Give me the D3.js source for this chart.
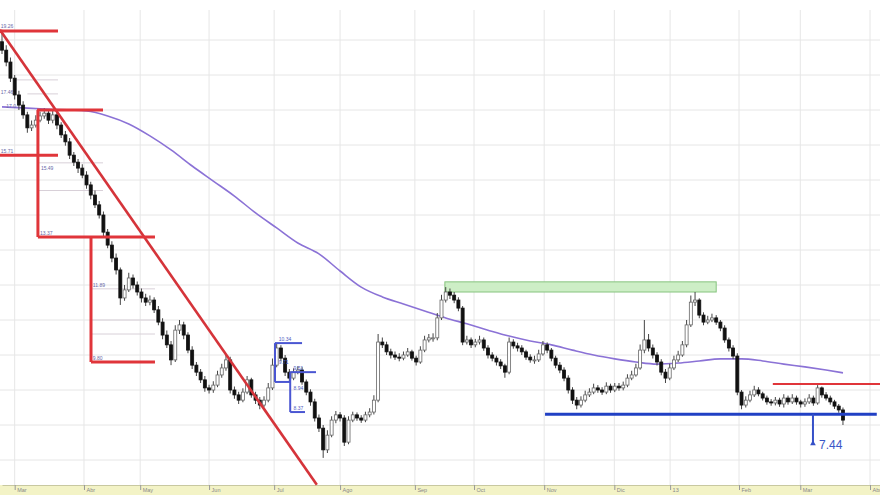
<!DOCTYPE html>
<html>
<head>
<meta charset="utf-8">
<script src="https://cdn.jsdelivr.net/npm/d3@7"></script>
<style>
  html, body { margin: 0; padding: 0; background: #fff; }
  svg { display: block; font-family: "Liberation Sans", Arial, sans-serif; }
</style>
</head>
<body>
<div id="chart-container"></div>
<script>
// daily candles, Mar 2012 -> Mar 2013 (open = previous close)
const firstOpen = 18.95
const closes = [
    18.71, 18.37, 17.91, 17.43, 17.14, 16.86, 16.49, 16.57, 16.71, 16.83,
    16.91, 16.71, 16.86, 16.57, 16.29, 16.09, 15.71, 15.51, 15.34, 15.14,
    14.86, 14.57, 14.29, 14.0, 13.51, 13.14, 12.77, 12.43, 11.63, 11.86,
    12.2, 12.0, 11.8, 11.63, 11.51, 11.57, 11.29, 10.94, 10.57, 10.29,
    9.86, 10.71, 10.86, 10.57, 10.14, 9.71, 9.51, 9.29, 9.06, 9.0,
    9.14, 9.43, 9.63, 9.86, 9.0, 8.86, 8.71, 8.94, 9.29, 8.86,
    8.71, 8.57, 8.71, 9.06, 9.71, 10.2, 9.91, 9.51, 9.34, 9.51,
    9.57, 9.23, 8.94, 8.66, 8.2, 7.91, 7.29, 7.71, 8.14, 8.29,
    8.2, 7.51, 8.14, 8.29, 8.2, 8.14, 8.29, 8.37, 8.71, 10.37,
    10.29, 10.09, 10.0, 9.94, 9.91, 10.0, 10.09, 9.91, 9.8, 10.14,
    10.43, 10.49, 10.49, 11.06, 11.57, 11.8, 11.71, 11.57, 11.34, 10.37,
    10.43, 10.29, 10.37, 10.43, 10.2, 10.0, 9.91, 9.8, 9.69, 9.51,
    10.37, 10.26, 10.2, 10.09, 9.94, 9.86, 9.86, 10.03, 10.29, 10.14,
    9.91, 9.71, 9.57, 9.34, 9.0, 8.71, 8.57, 8.71, 8.86, 8.94,
    9.06, 9.0, 8.94, 9.11, 9.0, 9.11, 9.06, 9.14, 9.34, 9.43,
    9.63, 10.14, 10.43, 10.2, 10.0, 9.8, 9.51, 9.34, 9.63, 9.86,
    10.0, 10.29, 10.86, 11.51, 11.57, 11.14, 10.94, 11.0, 11.06, 10.94,
    10.77, 10.43, 10.2, 9.97, 8.94, 8.57, 8.71, 8.86, 9.0, 8.89,
    8.77, 8.66, 8.63, 8.71, 8.6, 8.77, 8.66, 8.77, 8.66, 8.6,
    8.66, 8.77, 8.63, 9.06, 8.86, 8.77, 8.66, 8.54, 8.43, 8.14
]
const highs = [
    19.29, 18.85, 18.5, 18.0, 17.55, 17.25, 16.95, 16.7, 16.85, 16.95,
    17.05, 17.0, 16.97, 16.95, 16.65, 16.4, 16.2, 15.8, 15.6, 15.45,
    15.25, 14.95, 14.7, 14.4, 14.1, 13.6, 13.25, 12.9, 12.5, 12.0,
    12.35, 12.3, 12.1, 11.9, 11.75, 11.7, 11.65, 11.4, 11.05, 10.7,
    10.4, 10.85, 11.0, 10.95, 10.65, 10.25, 9.8, 9.6, 9.4, 9.15,
    9.25, 9.55, 9.75, 10.0, 9.95, 9.1, 8.95, 9.05, 9.4, 9.35,
    8.95, 8.8, 8.82, 9.2, 9.9, 10.34, 10.28, 10.0, 9.6, 9.62,
    9.68, 9.65, 9.3, 9.02, 8.75, 8.3, 8.0, 7.85, 8.25, 8.4,
    8.37, 8.28, 8.25, 8.38, 8.36, 8.28, 8.38, 8.48, 8.85, 10.6,
    10.5, 10.38, 10.18, 10.1, 10.05, 10.1, 10.2, 10.15, 9.98, 10.25,
    10.55, 10.6, 10.62, 11.2, 11.72, 11.94, 11.9, 11.8, 11.65, 11.4,
    10.55, 10.5, 10.46, 10.55, 10.5, 10.28, 10.08, 9.98, 9.88, 9.75,
    10.5, 10.45, 10.35, 10.28, 10.15, 10.02, 9.98, 10.15, 10.4, 10.36,
    10.2, 9.98, 9.8, 9.65, 9.42, 9.08, 8.8, 8.82, 8.98, 9.05,
    9.18, 9.14, 9.08, 9.22, 9.18, 9.2, 9.2, 9.24, 9.45, 9.55,
    9.75, 10.3, 11.0, 10.6, 10.3, 10.08, 9.88, 9.6, 9.75, 9.98,
    10.12, 10.4, 11.0, 11.7, 11.8, 11.62, 11.22, 11.12, 11.18, 11.14,
    11.0, 10.85, 10.5, 10.28, 10.05, 9.0, 8.82, 8.98, 9.12, 9.08,
    8.95, 8.84, 8.74, 8.8, 8.78, 8.88, 8.84, 8.88, 8.84, 8.72,
    8.76, 8.88, 8.84, 9.14, 9.1, 8.94, 8.84, 8.72, 8.6, 8.5
]
const lows = [
    18.6, 18.25, 17.8, 17.3, 17.0, 16.75, 16.35, 16.4, 16.5, 16.65,
    16.75, 16.6, 16.62, 16.45, 16.2, 15.98, 15.6, 15.4, 15.2, 15.05,
    14.75, 14.45, 14.2, 13.9, 13.4, 13.05, 12.65, 12.3, 11.43, 11.55,
    11.8, 11.9, 11.7, 11.5, 11.4, 11.42, 11.2, 10.85, 10.45, 10.2,
    9.71, 9.8, 10.6, 10.45, 10.05, 9.6, 9.4, 9.2, 8.95, 8.9,
    8.92, 9.08, 9.35, 9.55, 8.9, 8.75, 8.6, 8.65, 8.88, 8.78,
    8.6, 8.45, 8.5, 8.65, 9.0, 9.65, 9.82, 9.4, 9.25, 9.28,
    9.45, 9.15, 8.85, 8.55, 8.1, 7.8, 7.06, 7.2, 7.65, 8.05,
    8.1, 7.4, 7.45, 8.08, 8.12, 8.06, 8.08, 8.22, 8.3, 8.65,
    10.2, 10.0, 9.9, 9.86, 9.82, 9.85, 9.95, 9.84, 9.7, 9.75,
    10.08, 10.36, 10.38, 10.42, 11.0, 11.5, 11.6, 11.48, 11.25, 10.28,
    10.3, 10.2, 10.22, 10.3, 10.12, 9.9, 9.82, 9.7, 9.6, 9.35,
    9.45, 10.18, 10.1, 10.0, 9.86, 9.78, 9.75, 9.8, 9.98, 10.05,
    9.82, 9.62, 9.48, 9.25, 8.9, 8.6, 8.45, 8.5, 8.65, 8.8,
    8.88, 8.92, 8.86, 8.88, 8.92, 8.94, 8.98, 8.99, 9.08, 9.28,
    9.38, 9.58, 10.05, 10.1, 9.9, 9.7, 9.42, 9.2, 9.28, 9.57,
    9.8, 9.95, 10.22, 10.8, 11.4, 11.05, 10.85, 10.88, 10.94, 10.86,
    10.68, 10.35, 10.1, 9.88, 8.85, 8.45, 8.5, 8.65, 8.8, 8.82,
    8.7, 8.58, 8.55, 8.56, 8.52, 8.5, 8.58, 8.6, 8.58, 8.5,
    8.52, 8.6, 8.55, 8.58, 8.78, 8.7, 8.58, 8.46, 8.35, 8.0
]

// moving average, read at candle indexes
const maIdx = [0, 10, 20, 25, 30, 35, 40, 45, 50, 55, 60, 65, 70, 75, 80, 85, 90, 95, 100, 105,
    110, 115, 120, 125, 130, 135, 140, 145, 150, 155, 160, 165, 170, 175, 180, 185, 190, 195, 199]
const maVals = [17.09, 17.03, 16.97, 16.83, 16.6, 16.26, 15.86, 15.4, 14.97, 14.54, 14.06, 13.63, 13.2, 12.89, 12.4, 11.94, 11.66, 11.46, 11.26, 11.06,
    10.89, 10.71, 10.54, 10.4, 10.29, 10.14, 10.0, 9.89, 9.8, 9.74, 9.77, 9.83, 9.89, 9.89, 9.83, 9.74, 9.66, 9.57, 9.49]

// month ticks (position in candle index units)
const monthLabels = ['Mar', 'Abr', 'May', 'Jun', 'Jul', 'Ago', 'Sep', 'Oct', 'Nov', 'Dic', '13', 'Feb', 'Mar', 'Abr']
const monthTicks = [3, 19.4, 32.7, 49, 64.4, 80, 97.7, 111.7, 128.3, 144.9, 158.1, 174.4, 188.9, 205.4]
const priceGrid = [19, 18, 17, 16, 15, 14, 13, 12, 11, 10, 9, 8, 7]

// drawn annotations: [startIdx, endIdx, price]
const trendLine = [[-0.5, 19.29], [74.5, 6.29]]
const redLevels = [[-0.5, 13.25, 19.26], [8.3, 23.9, 17.0], [-0.5, 13.25, 15.71], [8.5, 36.2, 13.37], [21.06, 36.2, 9.8], [182.4, 208, 9.17]]
const redDrops = [[8.5, 17.0, 13.37], [21.06, 13.37, 9.8]]
const fibLevels = [[3, 13.25, 17.86], [6, 13.25, 17.46], [8.5, 23.9, 15.49], [8.5, 23.9, 14.7], [21.06, 36.2, 11.89], [21.06, 36.2, 11.0], [21.06, 36.2, 10.6]]
const fibLabels = [[-0.3, 19.35, '19.26'], [-0.3, 17.45, '17.46'], [-0.3, 15.78, '15.71'], [1, 17.05, '17.0'], [9, 13.44, '13.37'], [9.2, 15.3, '15.49'], [21.5, 9.87, '9.80'], [21.5, 11.95, '11.89']]
const blueLevels = [[64.6, 71.0, 10.34], [64.6, 68.2, 9.23], [68.2, 74.3, 9.51], [68.2, 71.7, 8.37], [128.5, 207, 8.31]]
const blueDrops = [[64.6, 10.34, 9.23], [68.2, 9.51, 8.37]]
const blueLabels = [[65.5, 10.4, '10.34'], [69, 9.57, '9.51'], [69, 9.0, '8.94'], [69, 8.43, '8.37'], [65.5, 9.75, '9.71']]
const resistanceBox = [104.8, 169, 12.09, 11.8]
const target = { idx: 191.9, from: 8.31, price: 7.44 }

const width = 880
const height = 495
const plotTop = 10
const axisY = 485

const svg = d3.select('#chart-container')
    .append('svg')
    .attr('width', width)
    .attr('height', height)

const x = d3.scaleLinear().domain([0, 208]).range([2, 881])
const y = d3.scaleLinear().domain([7, 19]).range([460, 40])

// grid
const grid = svg.append('g').attr('class', 'grid')
grid.selectAll('.hgrid')
    .data(priceGrid)
    .join('line')
    .attr('x1', 0).attr('x2', width)
    .attr('y1', d => y(d)).attr('y2', d => y(d))
    .attr('stroke', '#e6e6e6')
grid.selectAll('.vgrid')
    .data(monthTicks)
    .join('line')
    .attr('x1', d => x(d)).attr('x2', d => x(d))
    .attr('y1', plotTop).attr('y2', axisY)
    .attr('stroke', '#e6e6e6')

// axis band
svg.append('rect')
    .attr('x', 0).attr('y', axisY)
    .attr('width', width).attr('height', height - axisY)
    .attr('fill', '#f3f3c6')

const xAxis = d3.axisBottom(x)
    .tickValues(monthTicks)
    .tickFormat((d, i) => monthLabels[i])
    .tickSize(5)
    .tickSizeOuter(0)

const axisG = svg.append('g')
    .attr('transform', `translate(0,${axisY})`)
    .call(xAxis)
axisG.select('.domain').attr('stroke', '#c8c8a0')
axisG.selectAll('.tick line').attr('stroke', '#999')
axisG.selectAll('.tick text')
    .attr('text-anchor', 'start')
    .attr('dx', 2)
    .attr('y', 3)
    .attr('fill', '#888')
    .style('font-size', '5.5px')

// resistance zone
svg.append('rect')
    .attr('x', x(resistanceBox[0]))
    .attr('y', y(resistanceBox[2]))
    .attr('width', x(resistanceBox[1]) - x(resistanceBox[0]))
    .attr('height', y(resistanceBox[3]) - y(resistanceBox[2]))
    .attr('fill', '#cdeec6')
    .attr('stroke', '#86c47e')
    .attr('stroke-width', 1)

// faint fib levels
svg.append('g')
    .selectAll('line')
    .data(fibLevels)
    .join('line')
    .attr('x1', d => x(d[0])).attr('x2', d => x(d[1]))
    .attr('y1', d => y(d[2])).attr('y2', d => y(d[2]))
    .attr('stroke', '#d8d0d8')
    .attr('stroke-width', 1)

// moving average
const ma = maIdx.map((d, i) => [d, maVals[i]])
svg.append('path')
    .datum(ma)
    .attr('d', d3.line().x(d => x(d[0])).y(d => y(d[1])).curve(d3.curveMonotoneX))
    .attr('fill', 'none')
    .attr('stroke', '#8b72d6')
    .attr('stroke-width', 1.6)

// candles
const candles = closes.map((c, i) => ({
    i,
    o: i === 0 ? firstOpen : closes[i - 1],
    c,
    h: highs[i],
    l: lows[i]
}))
const bodyW = 3

const candleG = svg.append('g').attr('class', 'candles')
candleG.selectAll('.wick')
    .data(candles)
    .join('line')
    .attr('x1', d => x(d.i)).attr('x2', d => x(d.i))
    .attr('y1', d => y(d.h)).attr('y2', d => y(d.l))
    .attr('stroke', '#444')
    .attr('stroke-width', 1)
candleG.selectAll('.body')
    .data(candles)
    .join('rect')
    .attr('x', d => x(d.i) - bodyW / 2)
    .attr('y', d => y(Math.max(d.o, d.c)))
    .attr('width', bodyW)
    .attr('height', d => Math.max(1, Math.abs(y(d.o) - y(d.c))))
    .attr('fill', d => d.c < d.o ? '#111' : '#fff')
    .attr('stroke', d => d.c < d.o ? '#111' : '#666')
    .attr('stroke-width', 0.8)

// red trend line and levels
svg.append('line')
    .attr('x1', x(trendLine[0][0])).attr('y1', y(trendLine[0][1]))
    .attr('x2', x(trendLine[1][0])).attr('y2', y(trendLine[1][1]))
    .attr('stroke', '#d5343a')
    .attr('stroke-width', 2.6)

const redG = svg.append('g')
redG.selectAll('.lvl')
    .data(redLevels)
    .join('line')
    .attr('x1', d => x(d[0])).attr('x2', d => x(d[1]))
    .attr('y1', d => y(d[2])).attr('y2', d => y(d[2]))
    .attr('stroke', '#e0353a')
    .attr('stroke-width', (d, i) => i === redLevels.length - 1 ? 2 : 3)
redG.selectAll('.drop')
    .data(redDrops)
    .join('line')
    .attr('x1', d => x(d[0])).attr('x2', d => x(d[0]))
    .attr('y1', d => y(d[1])).attr('y2', d => y(d[2]))
    .attr('stroke', '#e0353a')
    .attr('stroke-width', 3)

svg.append('g')
    .selectAll('text')
    .data(fibLabels)
    .join('text')
    .attr('x', d => x(d[0]))
    .attr('y', d => y(d[1]))
    .attr('fill', '#6a6aa8')
    .style('font-size', '5px')
    .text(d => d[2])

// blue boxes and support
const blueG = svg.append('g')
blueG.selectAll('.lvl')
    .data(blueLevels)
    .join('line')
    .attr('x1', d => x(d[0])).attr('x2', d => x(d[1]))
    .attr('y1', d => y(d[2])).attr('y2', d => y(d[2]))
    .attr('stroke', (d, i) => i === blueLevels.length - 1 ? '#2140c4' : '#4a56d2')
    .attr('stroke-width', (d, i) => i === blueLevels.length - 1 ? 3 : 2)
blueG.selectAll('.drop')
    .data(blueDrops)
    .join('line')
    .attr('x1', d => x(d[0])).attr('x2', d => x(d[0]))
    .attr('y1', d => y(d[1])).attr('y2', d => y(d[2]))
    .attr('stroke', '#4a56d2')
    .attr('stroke-width', 2)
blueG.selectAll('text')
    .data(blueLabels)
    .join('text')
    .attr('x', d => x(d[0]))
    .attr('y', d => y(d[1]))
    .attr('fill', '#5060c0')
    .style('font-size', '5px')
    .text(d => d[2])

// projected target
svg.append('line')
    .attr('x1', x(target.idx)).attr('x2', x(target.idx))
    .attr('y1', y(target.from)).attr('y2', y(target.price))
    .attr('stroke', '#3550c8')
    .attr('stroke-width', 2)
svg.append('path')
    .attr('d', d3.symbol().type(d3.symbolTriangle).size(14)())
    .attr('transform', `translate(${x(target.idx)},${y(target.price) - 1})`)
    .attr('fill', '#3550c8')
svg.append('text')
    .attr('x', x(target.idx) + 6)
    .attr('y', y(target.price) + 4)
    .attr('fill', '#3a56c8')
    .style('font-size', '12px')
    .text(d3.format('.2f')(target.price))
</script>
</body>
</html>
